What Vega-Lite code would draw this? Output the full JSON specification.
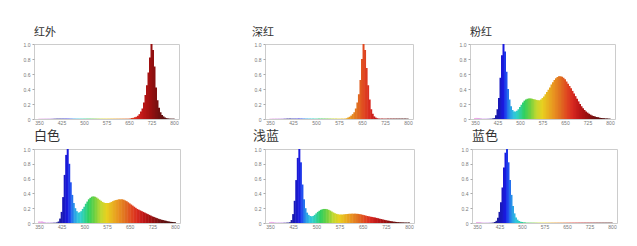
{
  "$schema": "https://vega.github.io/schema/vega-lite/v6.json",
  "padding": {"left": 22, "top": 26, "right": 0, "bottom": 0},
  "background": "white",
  "data": {"values": [
    {"wl":350,"ir":0.005,"dr":0.005,"pk":0.015,"wh":0.02,"lb":0.015,"bl":0.012},
    {"wl":355,"ir":0.005,"dr":0.005,"pk":0.015,"wh":0.02,"lb":0.015,"bl":0.012},
    {"wl":360,"ir":0.005,"dr":0.005,"pk":0.015,"wh":0.02,"lb":0.012,"bl":0.01},
    {"wl":365,"ir":0.005,"dr":0.005,"pk":0.012,"wh":0.015,"lb":0.008,"bl":0.008},
    {"wl":370,"ir":0.005,"dr":0.005,"pk":0.008,"wh":0.008,"lb":0.005,"bl":0.005},
    {"wl":375,"ir":0.005,"dr":0.005,"pk":0.005,"wh":0.005,"lb":0.005,"bl":0.005},
    {"wl":380,"ir":0.005,"dr":0.005,"pk":0.005,"wh":0.005,"lb":0.005,"bl":0.005},
    {"wl":385,"ir":0.005,"dr":0.005,"pk":0.005,"wh":0.005,"lb":0.005,"bl":0.005},
    {"wl":390,"ir":0.005,"dr":0.005,"pk":0.005,"wh":0.005,"lb":0.005,"bl":0.005},
    {"wl":395,"ir":0.005,"dr":0.005,"pk":0.005,"wh":0.005,"lb":0.005,"bl":0.005},
    {"wl":400,"ir":0.005,"dr":0.005,"pk":0.005,"wh":0.005,"lb":0.005,"bl":0.005},
    {"wl":405,"ir":0.005,"dr":0.005,"pk":0.005,"wh":0.005,"lb":0.005,"bl":0.008},
    {"wl":410,"ir":0.005,"dr":0.005,"pk":0.007,"wh":0.008,"lb":0.006,"bl":0.015},
    {"wl":415,"ir":0.005,"dr":0.005,"pk":0.012,"wh":0.02,"lb":0.01,"bl":0.03},
    {"wl":420,"ir":0.005,"dr":0.005,"pk":0.05,"wh":0.06,"lb":0.04,"bl":0.07},
    {"wl":425,"ir":0.005,"dr":0.005,"pk":0.13,"wh":0.15,"lb":0.12,"bl":0.15},
    {"wl":430,"ir":0.005,"dr":0.005,"pk":0.28,"wh":0.35,"lb":0.3,"bl":0.28},
    {"wl":435,"ir":0.005,"dr":0.005,"pk":0.55,"wh":0.65,"lb":0.58,"bl":0.48},
    {"wl":440,"ir":0.005,"dr":0.005,"pk":0.85,"wh":0.92,"lb":0.88,"bl":0.75},
    {"wl":445,"ir":0.005,"dr":0.005,"pk":1.0,"wh":1.0,"lb":1.0,"bl":0.95},
    {"wl":450,"ir":0.005,"dr":0.005,"pk":0.9,"wh":0.8,"lb":0.82,"bl":1.0},
    {"wl":455,"ir":0.005,"dr":0.005,"pk":0.63,"wh":0.55,"lb":0.52,"bl":0.82},
    {"wl":460,"ir":0.005,"dr":0.005,"pk":0.4,"wh":0.38,"lb":0.32,"bl":0.58},
    {"wl":465,"ir":0.005,"dr":0.005,"pk":0.26,"wh":0.27,"lb":0.2,"bl":0.38},
    {"wl":470,"ir":0.005,"dr":0.005,"pk":0.17,"wh":0.2,"lb":0.14,"bl":0.23},
    {"wl":475,"ir":0.005,"dr":0.005,"pk":0.12,"wh":0.16,"lb":0.11,"bl":0.13},
    {"wl":480,"ir":0.005,"dr":0.005,"pk":0.1,"wh":0.14,"lb":0.095,"bl":0.075},
    {"wl":485,"ir":0.005,"dr":0.005,"pk":0.1,"wh":0.145,"lb":0.09,"bl":0.045},
    {"wl":490,"ir":0.005,"dr":0.005,"pk":0.11,"wh":0.16,"lb":0.095,"bl":0.028},
    {"wl":495,"ir":0.005,"dr":0.005,"pk":0.13,"wh":0.19,"lb":0.11,"bl":0.018},
    {"wl":500,"ir":0.005,"dr":0.005,"pk":0.16,"wh":0.22,"lb":0.13,"bl":0.012},
    {"wl":505,"ir":0.005,"dr":0.005,"pk":0.19,"wh":0.26,"lb":0.15,"bl":0.009},
    {"wl":510,"ir":0.005,"dr":0.005,"pk":0.22,"wh":0.29,"lb":0.165,"bl":0.007},
    {"wl":515,"ir":0.005,"dr":0.005,"pk":0.245,"wh":0.32,"lb":0.178,"bl":0.005},
    {"wl":520,"ir":0.005,"dr":0.005,"pk":0.26,"wh":0.34,"lb":0.186,"bl":0.005},
    {"wl":525,"ir":0.005,"dr":0.005,"pk":0.27,"wh":0.355,"lb":0.19,"bl":0.005},
    {"wl":530,"ir":0.005,"dr":0.005,"pk":0.275,"wh":0.36,"lb":0.19,"bl":0.005},
    {"wl":535,"ir":0.005,"dr":0.005,"pk":0.275,"wh":0.355,"lb":0.186,"bl":0.005},
    {"wl":540,"ir":0.005,"dr":0.005,"pk":0.27,"wh":0.345,"lb":0.178,"bl":0.005},
    {"wl":545,"ir":0.005,"dr":0.005,"pk":0.265,"wh":0.33,"lb":0.168,"bl":0.005},
    {"wl":550,"ir":0.005,"dr":0.005,"pk":0.26,"wh":0.315,"lb":0.155,"bl":0.005},
    {"wl":555,"ir":0.005,"dr":0.005,"pk":0.255,"wh":0.3,"lb":0.143,"bl":0.005},
    {"wl":560,"ir":0.005,"dr":0.005,"pk":0.25,"wh":0.285,"lb":0.132,"bl":0.005},
    {"wl":565,"ir":0.005,"dr":0.005,"pk":0.25,"wh":0.275,"lb":0.124,"bl":0.005},
    {"wl":570,"ir":0.005,"dr":0.005,"pk":0.26,"wh":0.27,"lb":0.118,"bl":0.005},
    {"wl":575,"ir":0.005,"dr":0.005,"pk":0.28,"wh":0.27,"lb":0.115,"bl":0.005},
    {"wl":580,"ir":0.005,"dr":0.005,"pk":0.3,"wh":0.27,"lb":0.114,"bl":0.005},
    {"wl":585,"ir":0.005,"dr":0.005,"pk":0.33,"wh":0.275,"lb":0.115,"bl":0.005},
    {"wl":590,"ir":0.005,"dr":0.005,"pk":0.36,"wh":0.285,"lb":0.117,"bl":0.005},
    {"wl":595,"ir":0.005,"dr":0.005,"pk":0.39,"wh":0.295,"lb":0.12,"bl":0.005},
    {"wl":600,"ir":0.005,"dr":0.01,"pk":0.42,"wh":0.305,"lb":0.122,"bl":0.005},
    {"wl":605,"ir":0.005,"dr":0.02,"pk":0.46,"wh":0.31,"lb":0.124,"bl":0.005},
    {"wl":610,"ir":0.005,"dr":0.03,"pk":0.49,"wh":0.315,"lb":0.125,"bl":0.005},
    {"wl":615,"ir":0.005,"dr":0.045,"pk":0.52,"wh":0.32,"lb":0.126,"bl":0.005},
    {"wl":620,"ir":0.005,"dr":0.065,"pk":0.545,"wh":0.32,"lb":0.126,"bl":0.005},
    {"wl":625,"ir":0.005,"dr":0.09,"pk":0.56,"wh":0.32,"lb":0.126,"bl":0.005},
    {"wl":630,"ir":0.005,"dr":0.14,"pk":0.57,"wh":0.315,"lb":0.125,"bl":0.005},
    {"wl":635,"ir":0.005,"dr":0.22,"pk":0.57,"wh":0.305,"lb":0.123,"bl":0.005},
    {"wl":640,"ir":0.005,"dr":0.33,"pk":0.565,"wh":0.295,"lb":0.12,"bl":0.005},
    {"wl":645,"ir":0.005,"dr":0.52,"pk":0.55,"wh":0.28,"lb":0.116,"bl":0.005},
    {"wl":650,"ir":0.005,"dr":0.8,"pk":0.53,"wh":0.265,"lb":0.111,"bl":0.005},
    {"wl":655,"ir":0.008,"dr":1.0,"pk":0.5,"wh":0.25,"lb":0.106,"bl":0.005},
    {"wl":660,"ir":0.012,"dr":0.92,"pk":0.47,"wh":0.235,"lb":0.1,"bl":0.005},
    {"wl":665,"ir":0.016,"dr":0.68,"pk":0.44,"wh":0.22,"lb":0.095,"bl":0.005},
    {"wl":670,"ir":0.022,"dr":0.45,"pk":0.41,"wh":0.205,"lb":0.09,"bl":0.005},
    {"wl":675,"ir":0.03,"dr":0.26,"pk":0.375,"wh":0.19,"lb":0.086,"bl":0.005},
    {"wl":680,"ir":0.045,"dr":0.13,"pk":0.34,"wh":0.18,"lb":0.082,"bl":0.005},
    {"wl":685,"ir":0.065,"dr":0.07,"pk":0.305,"wh":0.17,"lb":0.078,"bl":0.005},
    {"wl":690,"ir":0.1,"dr":0.035,"pk":0.27,"wh":0.16,"lb":0.074,"bl":0.005},
    {"wl":695,"ir":0.14,"dr":0.018,"pk":0.235,"wh":0.15,"lb":0.069,"bl":0.005},
    {"wl":700,"ir":0.22,"dr":0.01,"pk":0.2,"wh":0.14,"lb":0.064,"bl":0.005},
    {"wl":705,"ir":0.32,"dr":0.005,"pk":0.17,"wh":0.13,"lb":0.058,"bl":0.005},
    {"wl":710,"ir":0.45,"dr":0.005,"pk":0.145,"wh":0.12,"lb":0.053,"bl":0.005},
    {"wl":715,"ir":0.62,"dr":0.005,"pk":0.12,"wh":0.11,"lb":0.048,"bl":0.005},
    {"wl":720,"ir":0.82,"dr":0.005,"pk":0.1,"wh":0.1,"lb":0.043,"bl":0.005},
    {"wl":725,"ir":1.0,"dr":0.005,"pk":0.085,"wh":0.09,"lb":0.038,"bl":0.005},
    {"wl":730,"ir":0.92,"dr":0.005,"pk":0.07,"wh":0.082,"lb":0.034,"bl":0.005},
    {"wl":735,"ir":0.7,"dr":0.005,"pk":0.058,"wh":0.074,"lb":0.03,"bl":0.005},
    {"wl":740,"ir":0.42,"dr":0.005,"pk":0.048,"wh":0.066,"lb":0.026,"bl":0.005},
    {"wl":745,"ir":0.25,"dr":0.005,"pk":0.04,"wh":0.058,"lb":0.022,"bl":0.005},
    {"wl":750,"ir":0.15,"dr":0.005,"pk":0.033,"wh":0.051,"lb":0.019,"bl":0.005},
    {"wl":755,"ir":0.09,"dr":0.005,"pk":0.027,"wh":0.045,"lb":0.016,"bl":0.005},
    {"wl":760,"ir":0.055,"dr":0.005,"pk":0.022,"wh":0.04,"lb":0.014,"bl":0.005},
    {"wl":765,"ir":0.035,"dr":0.005,"pk":0.018,"wh":0.035,"lb":0.012,"bl":0.005},
    {"wl":770,"ir":0.02,"dr":0.005,"pk":0.015,"wh":0.03,"lb":0.01,"bl":0.005},
    {"wl":775,"ir":0.012,"dr":0.005,"pk":0.012,"wh":0.025,"lb":0.009,"bl":0.005},
    {"wl":780,"ir":0.008,"dr":0.005,"pk":0.01,"wh":0.02,"lb":0.008,"bl":0.005},
    {"wl":785,"ir":0.006,"dr":0.005,"pk":0.008,"wh":0.017,"lb":0.007,"bl":0.005},
    {"wl":790,"ir":0.005,"dr":0.005,"pk":0.007,"wh":0.014,"lb":0.006,"bl":0.005},
    {"wl":795,"ir":0.005,"dr":0.005,"pk":0.006,"wh":0.012,"lb":0.006,"bl":0.005},
    {"wl":800,"ir":0.005,"dr":0.005,"pk":0.005,"wh":0.01,"lb":0.006,"bl":0.005}
  ]},
  "vconcat": [
    {"hconcat": [
      {"width":145,"height":75,"title":{"text":"红外","fontSize":11,"offset":4},
       "mark":{"type":"bar","width":2,"clip":true},
       "encoding":{
         "x":{"field":"wl","type":"quantitative","scale":{"domain":[350,800],"nice":false,"zero":false},"axis":{"values":[350,425,500,575,650,725,800],"title":null}},
         "y":{"field":"ir","type":"quantitative","scale":{"domain":[0,1],"nice":false},"axis":{"values":[0,0.2,0.4,0.6,0.8,1],"labelExpr":"datum.value == 0 ? '0' : format(datum.value, '.1f')","title":null}},
         "color":{"field":"wl","type":"quantitative","legend":null,"scale":{"domain":[350,390,410,430,445,455,465,478,490,500,515,535,555,575,595,615,635,655,675,695,720,750,800],"range":["#f4b0e8","#c090e8","#202090","#1818b8","#1a1ae0","#2050f0","#2890e8","#30c0e0","#30d0c8","#30d0a0","#30d060","#70d040","#c0d830","#e8d020","#e8b020","#e89020","#e07020","#e04a20","#d82a20","#c01818","#a01010","#701010","#401010"],"interpolate":"rgb"}}
       }},
      {"hconcat": [
        {"width":148,"height":75,"title":{"text":"深红","fontSize":11,"offset":4,"dx":-13},
         "mark":{"type":"bar","width":2,"clip":true},
         "encoding":{
           "x":{"field":"wl","type":"quantitative","scale":{"domain":[350,800],"nice":false,"zero":false},"axis":{"values":[350,425,500,575,650,725,800],"title":null}},
           "y":{"field":"dr","type":"quantitative","scale":{"domain":[0,1],"nice":false},"axis":{"values":[0,0.2,0.4,0.6,0.8,1],"labelExpr":"datum.value == 0 ? '0' : format(datum.value, '.1f')","title":null}},
           "color":{"field":"wl","type":"quantitative","legend":null,"scale":{"domain":[350,390,410,430,445,455,465,478,490,500,515,535,555,575,595,615,635,655,675,695,720,750,800],"range":["#f4b0e8","#c090e8","#202090","#1818b8","#1a1ae0","#2050f0","#2890e8","#30c0e0","#30d0c8","#30d0a0","#30d060","#70d040","#c0d830","#e8d020","#e8b020","#e89020","#e07020","#e04a20","#d82a20","#c01818","#a01010","#701010","#401010"],"interpolate":"rgb"}}
         }},
        {"width":145,"height":75,"title":{"text":"粉红","fontSize":11,"offset":4},
         "mark":{"type":"bar","width":2,"clip":true},
         "encoding":{
           "x":{"field":"wl","type":"quantitative","scale":{"domain":[350,800],"nice":false,"zero":false},"axis":{"values":[350,425,500,575,650,725,800],"title":null}},
           "y":{"field":"pk","type":"quantitative","scale":{"domain":[0,1],"nice":false},"axis":{"values":[0,0.2,0.4,0.6,0.8,1],"labelExpr":"datum.value == 0 ? '0' : format(datum.value, '.1f')","title":null}},
           "color":{"field":"wl","type":"quantitative","legend":null,"scale":{"domain":[350,390,410,430,445,455,465,478,490,500,515,535,555,575,595,615,635,655,675,695,720,750,800],"range":["#f4b0e8","#c090e8","#202090","#1818b8","#1a1ae0","#2050f0","#2890e8","#30c0e0","#30d0c8","#30d0a0","#30d060","#70d040","#c0d830","#e8d020","#e8b020","#e89020","#e07020","#e04a20","#d82a20","#c01818","#a01010","#701010","#401010"],"interpolate":"rgb"}}
         }}
      ], "spacing": 57, "bounds": "flush"}
    ], "spacing": 86, "bounds": "flush"},
    {"hconcat": [
      {"width":146,"height":74,"title":{"text":"白色","fontSize":13,"offset":4},
       "mark":{"type":"bar","width":2,"clip":true},
       "encoding":{
         "x":{"field":"wl","type":"quantitative","scale":{"domain":[350,800],"nice":false,"zero":false},"axis":{"values":[350,425,500,575,650,725,800],"title":null}},
         "y":{"field":"wh","type":"quantitative","scale":{"domain":[0,1],"nice":false},"axis":{"values":[0,0.2,0.4,0.6,0.8,1],"labelExpr":"datum.value == 0 ? '0' : format(datum.value, '.1f')","title":null}},
         "color":{"field":"wl","type":"quantitative","legend":null,"scale":{"domain":[350,390,410,430,445,455,465,478,490,500,515,535,555,575,595,615,635,655,675,695,720,750,800],"range":["#f4b0e8","#c090e8","#202090","#1818b8","#1a1ae0","#2050f0","#2890e8","#30c0e0","#30d0c8","#30d0a0","#30d060","#70d040","#c0d830","#e8d020","#e8b020","#e89020","#e07020","#e04a20","#d82a20","#c01818","#a01010","#701010","#401010"],"interpolate":"rgb"}}
       }},
      {"hconcat": [
        {"width":149,"height":74,"title":{"text":"浅蓝","fontSize":13,"offset":4,"dx":-12},
         "mark":{"type":"bar","width":2,"clip":true},
         "encoding":{
           "x":{"field":"wl","type":"quantitative","scale":{"domain":[350,800],"nice":false,"zero":false},"axis":{"values":[350,425,500,575,650,725,800],"title":null}},
           "y":{"field":"lb","type":"quantitative","scale":{"domain":[0,1],"nice":false},"axis":{"values":[0,0.2,0.4,0.6,0.8,1],"labelExpr":"datum.value == 0 ? '0' : format(datum.value, '.1f')","title":null}},
           "color":{"field":"wl","type":"quantitative","legend":null,"scale":{"domain":[350,390,410,430,445,455,465,478,490,500,515,535,555,575,595,615,635,655,675,695,720,750,800],"range":["#f4b0e8","#c090e8","#202090","#1818b8","#1a1ae0","#2050f0","#2890e8","#30c0e0","#30d0c8","#30d0a0","#30d060","#70d040","#c0d830","#e8d020","#e8b020","#e89020","#e07020","#e04a20","#d82a20","#c01818","#a01010","#701010","#401010"],"interpolate":"rgb"}}
         }},
        {"width":145,"height":74,"title":{"text":"蓝色","fontSize":13,"offset":4},
         "mark":{"type":"bar","width":2,"clip":true},
         "encoding":{
           "x":{"field":"wl","type":"quantitative","scale":{"domain":[350,800],"nice":false,"zero":false},"axis":{"values":[350,425,500,575,650,725,800],"title":null}},
           "y":{"field":"bl","type":"quantitative","scale":{"domain":[0,1],"nice":false},"axis":{"values":[0,0.2,0.4,0.6,0.8,1],"labelExpr":"datum.value == 0 ? '0' : format(datum.value, '.1f')","title":null}},
           "color":{"field":"wl","type":"quantitative","legend":null,"scale":{"domain":[350,390,410,430,445,455,465,478,490,500,515,535,555,575,595,615,635,655,675,695,720,750,800],"range":["#f4b0e8","#c090e8","#202090","#1818b8","#1a1ae0","#2050f0","#2890e8","#30c0e0","#30d0c8","#30d0a0","#30d060","#70d040","#c0d830","#e8d020","#e8b020","#e89020","#e07020","#e04a20","#d82a20","#c01818","#a01010","#701010","#401010"],"interpolate":"rgb"}}
         }}
      ], "spacing": 58, "bounds": "flush"}
    ], "spacing": 85, "bounds": "flush"}
  ],
  "spacing": 3,
  "bounds": "full",
  "resolve": {"scale": {"x": "independent", "y": "independent", "color": "shared"}},
  "config": {
    "view": {"stroke": "#cccccc", "strokeWidth": 1},
    "axis": {"labelFont": "Liberation Sans", "labelFontSize": 5, "labelColor": "#777777", "tickColor": "#aaaaaa", "tickSize": 2, "domain": false, "grid": false, "labelPadding": 2, "labelFlush": false},
    "axisX": {"ticks": false, "labelPadding": 1},
    "title": {"anchor": "start", "frame": "group", "font": "Noto Sans CJK SC", "fontWeight": "normal", "color": "#333333"}
  }
}
